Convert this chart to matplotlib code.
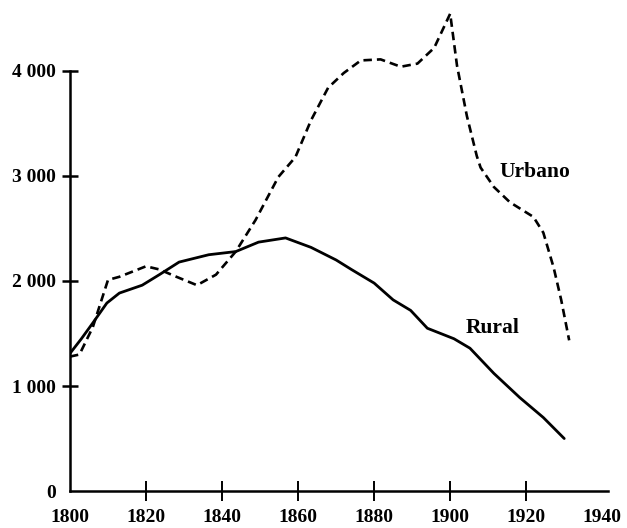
import matplotlib.pyplot as plt

# === Data ===
urbano_years = [1800, 1802.5, 1806, 1810, 1813, 1820, 1823.5, 1828, 1833.4, 1838.4,
                1843.6, 1848.8, 1854.8, 1859.3, 1863.4, 1867.9, 1872, 1876.5, 1881.7,
                1887, 1891.4, 1895.8, 1900, 1901.8, 1904.4, 1907, 1908, 1911.5, 1915.7,
                1921.9, 1924.5, 1927.2, 1929.2, 1931.3]
urbano_vals = [1280, 1300, 1560, 2010, 2040, 2140, 2110, 2040, 1960, 2060,
               2280, 2580, 2990, 3180, 3530, 3840, 3980, 4100, 4110,
               4040, 4070, 4220, 4545, 4050, 3570, 3190, 3080, 2895, 2750,
               2610, 2460, 2130, 1820, 1435]

rural_years = [1800, 1803, 1806, 1809.7, 1813, 1819, 1823.5, 1828.7, 1836.5, 1843.6,
               1849.6, 1856.7, 1863.4, 1870, 1874, 1880, 1885, 1889.6, 1894, 1901,
               1905.2, 1911.5, 1918.3, 1924.5, 1930]
rural_vals = [1310, 1450, 1600, 1790, 1885, 1960, 2060, 2180, 2250, 2280,
              2370, 2410, 2320, 2200, 2110, 1980, 1820, 1720, 1550, 1450,
              1360, 1120, 890, 700, 500]

x_ticks = [1800, 1820, 1840, 1860, 1880, 1900, 1920, 1940]
y_ticks = [0, 1000, 2000, 3000, 4000]
y_labels = ["0", "1 000", "2 000", "3 000", "4 000"]

font = {"family": "Liberation Serif", "weight": "bold"}

fig = plt.figure(figsize=(6.27, 5.28), dpi=100)
ax = fig.add_axes([0.1116, 0.070, 0.855, 0.915])

ax.plot(rural_years, rural_vals, color="black", lw=2.0, solid_capstyle="round")
ax.plot(urbano_years, urbano_vals, color="black", lw=1.9, linestyle=(0, (3.2, 1.9)))

ax.text(1913, 3040, "Urbano", fontsize=15.5, va="center", ha="left", **font)
ax.text(1904, 1550, "Rural", fontsize=15.5, va="center", ha="left", **font)

ax.set_xlim(1800, 1941)
ax.set_ylim(0, 4600)
ax.spines["top"].set_visible(False)
ax.spines["right"].set_visible(False)
ax.spines["left"].set_bounds(0, 4000)
ax.spines["bottom"].set_bounds(1800, 1941.5)
ax.spines["left"].set_linewidth(1.8)
ax.spines["bottom"].set_linewidth(1.8)

ax.set_xticks(x_ticks)
ax.set_xticklabels([str(t) for t in x_ticks], fontsize=14, **font)
ax.set_yticks(y_ticks)
ax.set_yticklabels(y_labels, fontsize=14, **font)
ax.tick_params(axis="x", direction="inout", length=14, width=1.4, pad=6)
ax.tick_params(axis="y", direction="inout", length=12, width=1.8, pad=4)
# no tick marks at the origin or at the end of the time axis
for t in (ax.xaxis.get_major_ticks()[0], ax.xaxis.get_major_ticks()[-1],
          ax.yaxis.get_major_ticks()[0]):
    t.tick1line.set_visible(False)

fig.savefig("out.png", dpi=100)
